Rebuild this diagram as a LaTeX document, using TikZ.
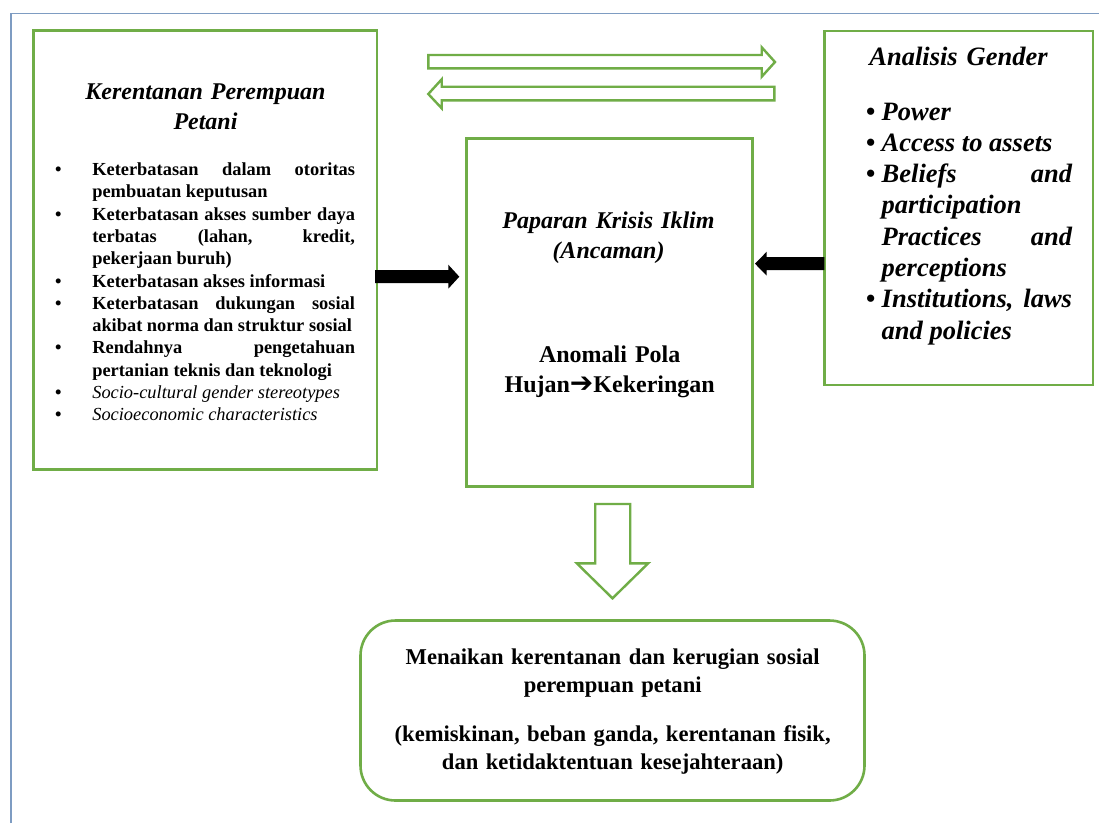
\documentclass[tikz,border=0pt]{standalone}
\usepackage{fontspec}
\setmainfont{Liberation Serif}
\newfontfamily\arrowfont{DejaVu Sans}
\definecolor{grn}{HTML}{70AD47}
\definecolor{frm}{HTML}{7E9CC2}
\newcommand\litem[1]{{\noindent\hangindent=37.3pt\hangafter=1\makebox[37.3pt][l]{\bfseries\upshape\textbullet}#1\par}}
\newcommand\ritem[1]{{\noindent\hangindent=15.7pt\hangafter=1\makebox[15.7pt][l]{\upshape\textbullet}#1\par}}
\begin{document}
\begin{tikzpicture}[x=1pt,y=-1pt,
  box/.style={draw=grn, line width=2.6pt, inner sep=0pt, outer sep=0pt},
  hollow/.style={draw=grn, line width=2.4pt, fill=white, line join=miter},
  blk/.style={fill=black},
  frame/.style={draw=frm, line width=1.3pt},
  txt/.style={inner sep=0pt, outer sep=0pt}]
\useasboundingbox (0,0) rectangle (1099,823);
\fill[white] (0,0) rectangle (1099,823);
\draw[frame] (11,823) -- (11,13.5) -- (1099,13.5);

% boxes
\node[box, anchor=north west, minimum width=343.5pt, minimum height=439pt] (left) at (33.5,30.5) {};
\node[box, anchor=north west, minimum width=286pt, minimum height=348.4pt] (center) at (466.7,138.3) {};
\node[box, anchor=north west, minimum width=268.5pt, minimum height=354pt] (right) at (824.3,31) {};
\node[box, rounded corners=35pt, anchor=north west, minimum width=504pt, minimum height=180pt] (bottom) at (360.5,620.5) {};

% left text
\node[txt, anchor=base, text width=330pt, align=center, font=\fontsize{24}{30}\selectfont\bfseries\itshape] (lefttitle) at (205.5,99) {Kerentanan Perempuan\\Petani};
\node[txt, anchor=base west, text width=300pt, align=justify, font=\fontsize{18.4}{22.3}\selectfont\bfseries] (leftlist) at (55,175.5) {%
\litem{Keterbatasan dalam otoritas\linebreak pembuatan keputusan}%
\litem{Keterbatasan akses sumber daya\linebreak terbatas (lahan, kredit,\linebreak pekerjaan buruh)}%
\litem{Keterbatasan akses informasi}%
\litem{Keterbatasan dukungan sosial\linebreak akibat norma dan struktur sosial}%
\litem{Rendahnya pengetahuan\linebreak pertanian teknis dan teknologi}%
\litem{\mdseries\itshape Socio-cultural gender stereotypes}%
\litem{\mdseries\itshape Socioeconomic characteristics}};

% center text
\node[txt, anchor=base, text width=280pt, align=center, font=\fontsize{24}{30}\selectfont\bfseries\itshape] (ctitle) at (608.5,228) {Paparan Krisis Iklim\\(Ancaman)};
\node[txt, anchor=base, text width=280pt, align=center, font=\fontsize{24}{30.5}\selectfont\bfseries] (cbody) at (609.7,362) {Anomali Pola\\Hujan{\arrowfont\fontsize{28}{28}\selectfont ➔}Kekeringan};

% right text
\node[txt, anchor=base, text width=260pt, align=center, font=\fontsize{26.5}{31.3}\selectfont\bfseries\itshape] (rtitle) at (958.5,65) {Analisis Gender};
\node[txt, anchor=base west, text width=206pt, align=justify, font=\fontsize{26.5}{31.3}\selectfont\bfseries\itshape] (rlist) at (866,120) {%
\ritem{Power}%
\ritem{Access to assets}%
\ritem{Beliefs and\linebreak participation\newline Practices and\linebreak perceptions}%
\ritem{Institutions, laws\linebreak and policies}};

% bottom text
\node[txt, anchor=base, text width=490pt, align=center, font=\fontsize{22.6}{28}\selectfont\bfseries] (btext) at (612.7,664) {Menaikan kerentanan dan kerugian sosial\\perempuan petani\\[21pt](kemiskinan, beban ganda, kerentanan fisik,\\dan ketidaktentuan kesejahteraan)};

% hollow arrows at top
\coordinate (ra) at (428.3,55);
\draw[hollow] (ra) -- ++(333.4,0) -- ++(0,-7.7) -- ++(13.3,14.7) -- ++(-13.3,14.7) -- ++(0,-8.4) -- ++(-333.4,0) -- cycle;
\coordinate (la) at (774.3,86.7);
\draw[hollow] (la) -- ++(-332.6,0) -- ++(0,-7.4) -- ++(-13.4,14.7) -- ++(13.4,14.3) -- ++(0,-8) -- ++(332.6,0) -- cycle;

% down hollow arrow
\coordinate (dtop) at (612.7,504);
\draw[hollow] (dtop) ++(-17.5,0) -- ++(35,0) -- ++(0,59.3) -- ++(18,0) -- ++(-35.7,35) -- ++(-35.7,-35) -- ++(18.4,0) -- cycle;

% black arrows
\coordinate (lay) at (0,276.7);
\fill[blk] (left.east |- lay) ++(-2,-6.5) -- ++(73.3,0) -- ++(0,-5.5) -- ++(11,12) -- ++(-11,12) -- ++(0,-5.5) -- ++(-73.3,0) -- cycle;
\coordinate (ray) at (0,263.7);
\fill[blk] (right.west |- ray) ++(0,-6.5) -- ++(-57.6,0) -- ++(0,-5.5) -- ++(-11.7,12) -- ++(11.7,12) -- ++(0,-5.5) -- ++(57.6,0) -- cycle;
\end{tikzpicture}
\end{document}
